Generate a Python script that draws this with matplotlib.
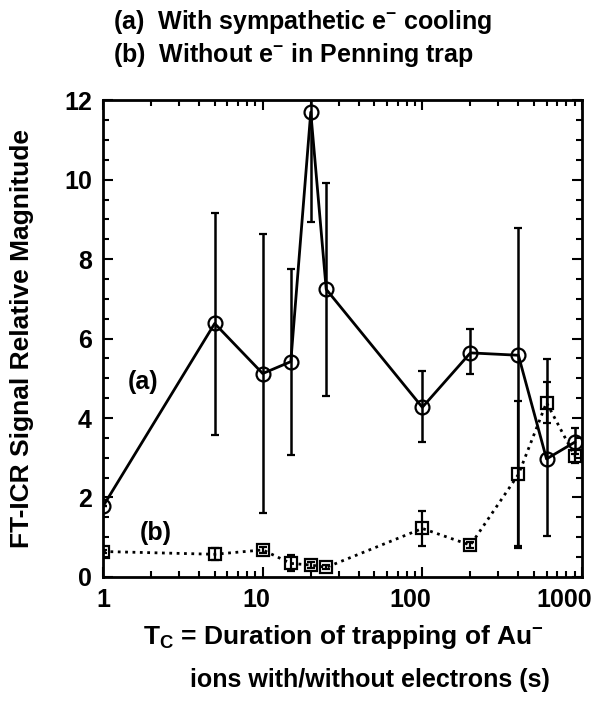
import numpy as np
import matplotlib
matplotlib.use("Agg")
import matplotlib.pyplot as plt
import matplotlib.transforms as mtransforms
from matplotlib.ticker import FixedLocator, MultipleLocator, LogLocator, NullFormatter

plt.rcParams['font.family'] = ['Liberation Sans', 'DejaVu Sans']
plt.rcParams['font.weight'] = 'bold'
plt.rcParams['mathtext.fontset'] = 'custom'
plt.rcParams['mathtext.rm'] = 'Liberation Sans:bold'
plt.rcParams['mathtext.bf'] = 'Liberation Sans:bold'
plt.rcParams['mathtext.it'] = 'Liberation Sans:bold'

# (a) with sympathetic electron cooling
t_a = [1, 5, 10, 15, 20, 25, 100, 200, 400, 600, 900]
sig_a = [1.78, 6.38, 5.12, 5.42, 11.7, 7.24, 4.27, 5.64, 5.58, 2.97, 3.39]
err_a_lo = [0.0, 2.81, 3.50, 2.35, 2.76, 2.68, 0.87, 0.54, 4.80, 1.94, 0.30]
err_a_hi = [0.0, 2.79, 3.51, 2.33, 0.30, 2.68, 0.92, 0.59, 3.20, 2.51, 0.35]

# (b) without electrons in Penning trap
t_b = [1, 5, 10, 15, 20, 25, 100, 200, 400, 600, 900]
sig_b = [0.64, 0.57, 0.68, 0.34, 0.30, 0.24, 1.22, 0.80, 2.58, 4.39, 3.05]
err_b = [0.05, 0.15, 0.08, 0.20, 0.08, 0.05, 0.45, 0.08, 1.85, 0.52, 0.18]

xticks = [1, 10, 100, 1000]
xticklabels = ['1', '10', '100', '1000']

fig = plt.figure(figsize=(6.1, 7.01), dpi=100)
ax = fig.add_axes([0.169, 0.177, 0.785, 0.680])

ax.errorbar(t_a, sig_a, yerr=[err_a_lo, err_a_hi], fmt='-o', color='black',
            lw=2, ms=10, mfc='none', mec='black', mew=1.6,
            elinewidth=1.8, capsize=3, capthick=1.8)
ax.errorbar(t_b, sig_b, yerr=err_b, fmt=':s', color='black',
            lw=2, ms=9, mfc='none', mec='black', mew=1.6,
            elinewidth=1.6, capsize=3, capthick=1.6)

ax.set_xscale('log')
ax.set_xlim(1, 1000)
ax.set_ylim(0, 12)
ax.xaxis.set_major_locator(FixedLocator(xticks))
ax.set_xticklabels(xticklabels)
ax.xaxis.set_minor_locator(LogLocator(base=10, subs=np.arange(2, 10)))
ax.xaxis.set_minor_formatter(NullFormatter())
ax.yaxis.set_major_locator(MultipleLocator(2))
ax.yaxis.set_minor_locator(MultipleLocator(0.5))

ax.tick_params(which='both', direction='in', top=True, right=True, width=1.5)
ax.tick_params(which='major', length=7, labelsize=18, pad=8)
ax.tick_params(which='minor', length=4)
for s in ax.spines.values():
    s.set_linewidth(2)
for lab in ax.get_xticklabels() + ax.get_yticklabels():
    lab.set_fontweight('bold')

# the x tick labels sit a bit left of their ticks in the original
for lab, dx in zip(ax.get_xticklabels(), [0, -6, -12, -18]):
    lab.set_transform(lab.get_transform() +
                      mtransforms.ScaledTranslation(dx / 100, 0, fig.dpi_scale_trans))

ax.set_ylabel('FT-ICR Signal Relative Magnitude', fontsize=19, fontweight='bold')
ax.yaxis.set_label_coords(-0.145, 0.5)

ax.text(1.78, 4.9, '(a)', fontsize=18, fontweight='bold', ha='center', va='center')
ax.text(2.15, 1.1, '(b)', fontsize=18, fontweight='bold', ha='center', va='center')

fig.text(0.185, 0.968, r'(a)  With sympathetic e$^{-}$ cooling', fontsize=18,
         fontweight='bold', va='center')
fig.text(0.185, 0.921, r'(b)  Without e$^{-}$ in Penning trap', fontsize=18,
         fontweight='bold', va='center')
fig.text(0.235, 0.092, r'T$_{\mathrm{C}}$ = Duration of trapping of Au$^{-}$', fontsize=19,
         fontweight='bold', va='center')
fig.text(0.312, 0.030, 'ions with/without electrons (s)', fontsize=18,
         fontweight='bold', va='center')

fig.savefig('out.png', dpi=100)
